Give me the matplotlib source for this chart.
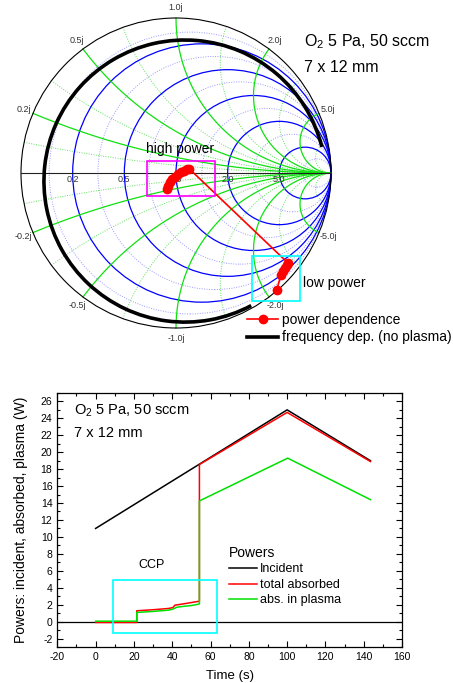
import numpy as np
import matplotlib
matplotlib.use('Agg')
import matplotlib.pyplot as plt
from matplotlib.patches import Circle, Rectangle, Arc
from matplotlib.lines import Line2D
from matplotlib.ticker import MultipleLocator

plt.rcParams['font.family'] = ['Liberation Sans', 'DejaVu Sans']
plt.rcParams['mathtext.fontset'] = 'custom'
plt.rcParams['mathtext.rm'] = 'Liberation Sans'
plt.rcParams['mathtext.it'] = 'Liberation Sans:italic'
plt.rcParams['axes.unicode_minus'] = False

# smith chart grid values
r_major = [0.2, 0.5, 1.0, 2.0, 5.0]
r_minor = [0.1, 0.33, 0.7, 1.4, 3.0, 10.0]
x_major = [0.2, 0.5, 1.0, 2.0, 5.0]
x_minor = [0.1, 0.33, 0.7, 1.4, 3.0, 10.0]
r_labels = ['0.2', '0.5', '1.0', '2.0', '5.0']

# power dependence (reflection coefficient, low -> high power)
pow_re = [0.650, 0.677, 0.690, 0.703, 0.713, 0.723,
          0.087, 0.071, 0.052, 0.032, 0.013, -0.006, -0.023, -0.039, -0.052, -0.061]
pow_im = [-0.755, -0.658, -0.632, -0.610, -0.594, -0.581,
          0.026, 0.023, 0.016, 0.006, -0.006, -0.023, -0.039, -0.058, -0.081, -0.103]

# frequency dependence, no plasma: arc
freq_center = (0.058, -0.052)
freq_radius = 0.91
freq_start, freq_end = 14, 298   # degrees

# powers vs time
t_inc = [0, 100, 143.5]
p_inc = [11.0, 25.0, 19.0]
t_abs = [0, 21.5, 21.5, 30, 38, 40.3, 41.5, 42.3, 46, 50, 52.8, 54.2, 54.2, 100, 143.5]
p_abs = [-0.1, -0.1, 1.28, 1.4, 1.55, 1.65, 1.95, 1.97, 2.1, 2.25, 2.36, 2.4, 18.55, 24.7, 18.9]
t_pl = [0, 21.5, 21.5, 30, 38, 40.3, 41.5, 42.5, 46, 50, 53.6, 54.2, 54.2, 100.3, 143.5]
p_pl = [0.05, 0.05, 1.08, 1.2, 1.35, 1.46, 1.6, 1.7, 1.8, 1.9, 2.05, 2.1, 14.25, 19.3, 14.4]

W, H = 453, 683
fig = plt.figure(figsize=(W / 100, H / 100), dpi=100)


def px(x, y):
    return x / W, 1 - y / H


def gamma(z):
    return (z - 1) / (z + 1)


# ---------------- smith chart ----------------
ax1 = fig.add_axes([0.00872, 0.4948, 0.7596, 0.5038])
ax1.set_xlim(-1.11, 1.11)
ax1.set_ylim(-1.11, 1.11)
ax1.axis('off')

ax1.add_patch(Circle((0, 0), 1, fill=False, ec='black', lw=0.8, zorder=3))

for r in r_minor:
    ax1.add_patch(Circle((r / (1 + r), 0), 1 / (1 + r), fill=False, ec='#9a9aff',
                         lw=0.7, ls=(0, (1, 1.5)), zorder=1))
for r in r_major:
    ax1.add_patch(Circle((r / (1 + r), 0), 1 / (1 + r), fill=False, ec='#0000ff',
                         lw=0.9, zorder=2))

rr = np.tan(np.linspace(0, np.pi / 2 - 1e-4, 600))
for xv in x_minor:
    for s in (1, -1):
        g = gamma(rr + 1j * s * xv)
        ax1.plot(g.real, g.imag, color='#5ee05e', lw=0.7, ls=(0, (1, 1.5)), zorder=1)
for xv in x_major:
    for s in (1, -1):
        g = gamma(rr + 1j * s * xv)
        ax1.plot(g.real, g.imag, color='#10e010', lw=0.9, zorder=2)

ax1.plot([-1, 1], [0, 0], color='#222222', lw=0.8, zorder=3)

for r, lab in zip(r_major, r_labels):
    ax1.text((r - 1) / (r + 1), -0.045, lab, fontsize=6.5, color='#333333',
             ha='center', va='center', zorder=4)

for xv in x_major:
    for s in (1, -1):
        g = gamma(1j * s * xv) * 1.065
        lab = ('%.1fj' % xv) if s > 0 else ('-%.1fj' % xv)
        ax1.text(g.real, g.imag, lab, fontsize=6.5, color='#333333',
                 ha='center', va='center', clip_on=False)

ax1.add_patch(Arc(freq_center, 2 * freq_radius, 2 * freq_radius, theta1=freq_start,
                  theta2=freq_end, color='black', lw=2.6, zorder=5))
ax1.plot(pow_re, pow_im, color='#ff0000', lw=1.2, marker='o', ms=6, zorder=6)

ax1.add_patch(Rectangle((-0.187, -0.148), 0.439, 0.225, fill=False, ec='#ff00ff', lw=1.2, zorder=7))
ax1.add_patch(Rectangle((0.492, -0.826), 0.308, 0.291, fill=False, ec='#00ffff', lw=1.2, zorder=7))

fig.text(*px(304, 46), 'O$_2$ 5 Pa, 50 sccm', fontsize=11.5, va='baseline')
fig.text(*px(304, 71.5), '7 x 12 mm', fontsize=11.5, va='baseline')
fig.text(*px(146, 153), 'high power', fontsize=10, va='baseline', zorder=8)
fig.text(*px(303, 287), 'low power', fontsize=10, va='baseline')

h1 = [Line2D([], [], color='#ff0000', lw=1.2, marker='o', ms=6),
      Line2D([], [], color='black', lw=2.6)]
ax1.legend(h1, ['power dependence', 'frequency dep. (no plasma)'],
           loc='upper left', bbox_to_anchor=px(247, 313), bbox_transform=fig.transFigure,
           frameon=False, fontsize=10, handlelength=2.25, handletextpad=0.3,
           labelspacing=0.25, borderpad=0, borderaxespad=0, numpoints=1)

# ---------------- powers vs time ----------------
ax2 = fig.add_axes([0.1265, 0.0527, 0.761, 0.372])
ax2.axhline(0, color='black', lw=0.9, zorder=1)
ax2.plot(t_inc, p_inc, color='black', lw=1.1, label='Incident', zorder=2)
ax2.plot(t_abs, p_abs, color='#ff0000', lw=1.1, label='total absorbed', zorder=3)
ax2.plot(t_pl, p_pl, color='#00e000', lw=1.1, label='abs. in plasma', zorder=4)

ax2.set_xlim(-20, 160)
ax2.set_ylim(-3, 27)
ax2.xaxis.set_major_locator(MultipleLocator(20))
ax2.xaxis.set_minor_locator(MultipleLocator(10))
ax2.yaxis.set_major_locator(MultipleLocator(2))
ax2.yaxis.set_minor_locator(MultipleLocator(1))
ax2.tick_params(which='both', direction='in', top=True, right=True, labelsize=7.5, width=0.8)
ax2.tick_params(which='major', length=4)
ax2.tick_params(which='minor', length=2)
for sp in ax2.spines.values():
    sp.set_linewidth(0.9)
ax2.set_xlabel('Time (s)', fontsize=9.5, labelpad=6)
ax2.set_ylabel('Powers: incident, absorbed, plasma (W)', fontsize=10, labelpad=9)

ax2.add_patch(Rectangle((8.9, -1.3), 54.3, 6.2, fill=False, ec='#00ffff', lw=1.2, zorder=5))
ax2.text(29, 6.7, 'CCP', fontsize=9, ha='center', va='center')
ax2.text(0.048, 0.913, 'O$_2$ 5 Pa, 50 sccm', fontsize=10.5, transform=ax2.transAxes, va='baseline')
ax2.text(0.048, 0.827, '7 x 12 mm', fontsize=10.5, transform=ax2.transAxes, va='baseline')

ax2.legend(loc='upper left', bbox_to_anchor=px(229, 546), bbox_transform=fig.transFigure,
           frameon=False, fontsize=9, title='Powers', title_fontsize=10,
           handlelength=2.25, handletextpad=0.25, labelspacing=0.28,
           borderpad=0, borderaxespad=0, alignment='left')

fig.savefig('out.png', dpi=100)
